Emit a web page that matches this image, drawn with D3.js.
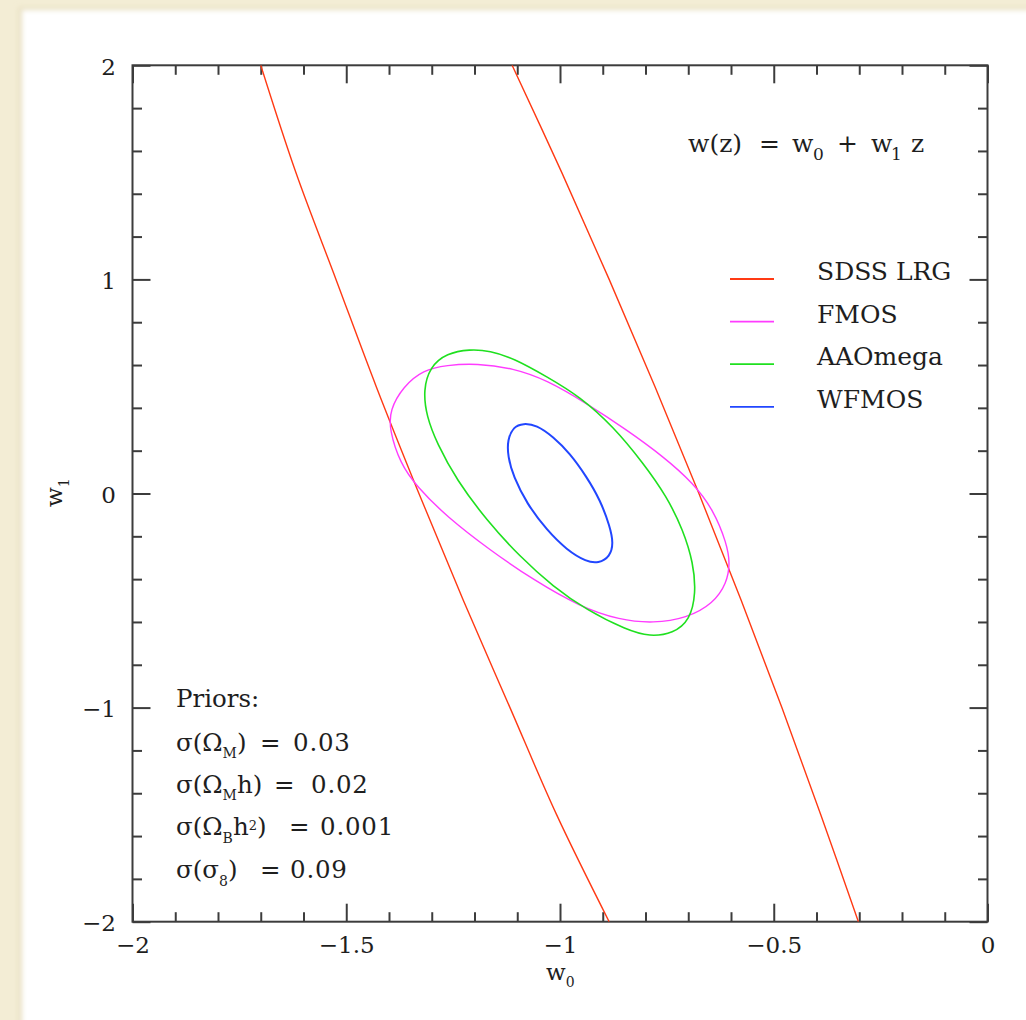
<!DOCTYPE html>
<html>
<head>
<meta charset="utf-8">
<script src="https://cdn.jsdelivr.net/npm/d3@7"></script>
<style>
  html, body { margin: 0; padding: 0; background: #f3edd5; }
  svg { display: block; }
  text { font-family: "DejaVu Serif", "Liberation Serif", serif; fill: #1e1e1e; }
</style>
</head>
<body>
<svg id="chart" width="1026" height="1020"></svg>
<script>
// Forecast 1-sigma contours in the (w0, w1) dark-energy plane.
const xDomain = [-2, 0];
const yDomain = [-2, 2];

const xMajorTicks = [-2, -1.5, -1, -0.5, 0];
const xTickLabels = ["\u22122", "\u22121.5", "\u22121", "\u22120.5", "0"];
const xMinorTicks = [-1.9, -1.8, -1.7, -1.6, -1.4, -1.3, -1.2, -1.1, -0.9, -0.8, -0.7, -0.6, -0.4, -0.3, -0.2, -0.1];
const yMajorTicks = [-2, -1, 0, 1, 2];
const yTickLabels = ["\u22122", "\u22121", "0", "1", "2"];
const yMinorTicks = [-1.8, -1.6, -1.4, -1.2, -0.8, -0.6, -0.4, -0.2, 0.2, 0.4, 0.6, 0.8, 1.2, 1.4, 1.6, 1.8];

const surveys = ["SDSS LRG", "FMOS", "AAOmega", "WFMOS"];
const surveyColors = ["#ff3a14", "#ff3cff", "#1fe01f", "#2146ff"];

// SDSS LRG: a long, thin ellipse whose two sides cross the whole panel
const sdssLeftEdge = [
  [-1.700, 2.0], [-1.618, 1.5], [-1.524, 1.0], [-1.430, 0.5], [-1.330, 0.0],
  [-1.226, -0.5], [-1.117, -1.0], [-1.008, -1.5], [-0.885, -2.0]
];
const sdssRightEdge = [
  [-1.112, 2.0], [-0.996, 1.5], [-0.885, 1.0], [-0.778, 0.5], [-0.675, 0.0],
  [-0.576, -0.5], [-0.481, -1.0], [-0.390, -1.5], [-0.302, -2.0]
];

// FMOS closed contour
const fmosContour = [
  [-1.195, 0.608], [-1.109, 0.585], [-1.031, 0.530], [-0.938, 0.421],
  [-0.844, 0.297], [-0.758, 0.172], [-0.688, 0.048], [-0.641, -0.077],
  [-0.610, -0.233], [-0.602, -0.326], [-0.610, -0.419], [-0.641, -0.513],
  [-0.704, -0.583], [-0.782, -0.606], [-0.860, -0.591], [-0.953, -0.529],
  [-1.062, -0.404], [-1.164, -0.264], [-1.265, -0.108], [-1.335, 0.032],
  [-1.374, 0.141], [-1.399, 0.297], [-1.398, 0.390], [-1.367, 0.499],
  [-1.320, 0.577], [-1.265, 0.600]
];

// AAOmega closed contour
const aaoContour = [
  [-1.211, 0.674], [-1.164, 0.667], [-1.109, 0.632], [-1.031, 0.546],
  [-0.953, 0.452], [-0.875, 0.312], [-0.805, 0.141], [-0.750, -0.015],
  [-0.712, -0.171], [-0.688, -0.326], [-0.682, -0.466], [-0.696, -0.591],
  [-0.735, -0.653], [-0.790, -0.669], [-0.844, -0.638], [-0.938, -0.544],
  [-1.016, -0.435], [-1.094, -0.295], [-1.172, -0.124], [-1.242, 0.063],
  [-1.288, 0.235], [-1.312, 0.359], [-1.320, 0.483], [-1.304, 0.592],
  [-1.265, 0.655]
];

// WFMOS closed contour
const wfmosContour = [
  [-1.086, 0.328], [-1.055, 0.320], [-1.016, 0.265], [-0.977, 0.188],
  [-0.938, 0.079], [-0.906, -0.030], [-0.883, -0.155], [-0.875, -0.233],
  [-0.883, -0.295], [-0.910, -0.326], [-0.938, -0.319], [-0.984, -0.264],
  [-1.031, -0.171], [-1.078, -0.046], [-1.109, 0.079], [-1.122, 0.172],
  [-1.123, 0.250], [-1.109, 0.312]
];

const svg = d3.select("#chart");
const W = 1026, H = 1020;

// page: cream backdrop with a soft-edged white sheet
const defs = svg.append("defs");
defs.append("filter").attr("id", "soft")
  .attr("x", "-5%").attr("y", "-5%").attr("width", "110%").attr("height", "110%")
  .append("feGaussianBlur").attr("stdDeviation", 2.5);
svg.append("rect").attr("width", W).attr("height", H).attr("fill", "#f3edd5");
svg.append("rect").attr("x", 18).attr("y", 7).attr("width", W).attr("height", H)
  .attr("fill", "#e9e1c4").attr("filter", "url(#soft)");
svg.append("rect").attr("x", 22).attr("y", 10).attr("width", W).attr("height", H)
  .attr("fill", "#ffffff").attr("filter", "url(#soft)");

const plotLeft = 132.5, plotRight = 987.5, plotTop = 65.3, plotBottom = 921.7;
const x = d3.scaleLinear().domain(xDomain).range([plotLeft, plotRight]);
const y = d3.scaleLinear().domain(yDomain).range([plotBottom, plotTop]);

defs.append("clipPath").attr("id", "plotClip")
  .append("rect").attr("x", plotLeft).attr("y", plotTop)
  .attr("width", plotRight - plotLeft).attr("height", plotBottom - plotTop);

const frameColor = "#3c3c3c";
const majorLen = 18, minorLen = 9.5;
const tickFont = 23;

// axes: ticks point inward on all four sides
function styleAxis(g) {
  g.select(".domain").remove();
  g.selectAll(".tick line").attr("stroke", frameColor).attr("stroke-width", 2);
}
function styleLabels(g) {
  g.selectAll("text").attr("font-size", tickFont).attr("fill", "#1e1e1e")
    .style("font-family", "'DejaVu Serif', serif");
}
const xLabelFor = d => xTickLabels[xMajorTicks.indexOf(d)];
const yLabelFor = d => yTickLabels[yMajorTicks.indexOf(d)];

svg.append("g").attr("transform", `translate(0,${plotBottom})`)
  .call(d3.axisBottom(x).tickValues(xMajorTicks).tickSizeInner(-majorLen).tickSizeOuter(0)
        .tickPadding(15).tickFormat(xLabelFor))
  .call(styleAxis).call(styleLabels);
svg.append("g").attr("transform", `translate(0,${plotBottom})`)
  .call(d3.axisBottom(x).tickValues(xMinorTicks).tickSizeInner(-minorLen).tickSizeOuter(0).tickFormat(""))
  .call(styleAxis);
svg.append("g").attr("transform", `translate(0,${plotTop})`)
  .call(d3.axisTop(x).tickValues(xMajorTicks).tickSizeInner(-majorLen).tickSizeOuter(0).tickFormat(""))
  .call(styleAxis);
svg.append("g").attr("transform", `translate(0,${plotTop})`)
  .call(d3.axisTop(x).tickValues(xMinorTicks).tickSizeInner(-minorLen).tickSizeOuter(0).tickFormat(""))
  .call(styleAxis);

svg.append("g").attr("transform", `translate(${plotLeft},0)`)
  .call(d3.axisLeft(y).tickValues(yMajorTicks).tickSizeInner(-majorLen).tickSizeOuter(0)
        .tickPadding(16.5).tickFormat(yLabelFor))
  .call(styleAxis).call(styleLabels)
  .call(g => g.selectAll("text").attr("dy", "0.4em"));
svg.append("g").attr("transform", `translate(${plotLeft},0)`)
  .call(d3.axisLeft(y).tickValues(yMinorTicks).tickSizeInner(-minorLen).tickSizeOuter(0).tickFormat(""))
  .call(styleAxis);
svg.append("g").attr("transform", `translate(${plotRight},0)`)
  .call(d3.axisRight(y).tickValues(yMajorTicks).tickSizeInner(-majorLen).tickSizeOuter(0).tickFormat(""))
  .call(styleAxis);
svg.append("g").attr("transform", `translate(${plotRight},0)`)
  .call(d3.axisRight(y).tickValues(yMinorTicks).tickSizeInner(-minorLen).tickSizeOuter(0).tickFormat(""))
  .call(styleAxis);

// frame
svg.append("rect").attr("x", plotLeft).attr("y", plotTop)
  .attr("width", plotRight - plotLeft).attr("height", plotBottom - plotTop)
  .attr("fill", "none").attr("stroke", frameColor).attr("stroke-width", 2);

// contours
const plot = svg.append("g").attr("clip-path", "url(#plotClip)");
const openLine = d3.line().x(d => x(d[0])).y(d => y(d[1])).curve(d3.curveCatmullRom.alpha(0.5));
const closedLine = d3.line().x(d => x(d[0])).y(d => y(d[1])).curve(d3.curveBasisClosed);

[sdssLeftEdge, sdssRightEdge].forEach(edge => {
  plot.append("path").attr("d", openLine(edge))
    .attr("fill", "none").attr("stroke", surveyColors[0]).attr("stroke-width", 1.4);
});
[[fmosContour, 1, 1.4], [aaoContour, 2, 1.6], [wfmosContour, 3, 2]].forEach(([pts, i, sw]) => {
  plot.append("path").attr("d", closedLine(pts))
    .attr("fill", "none").attr("stroke", surveyColors[i]).attr("stroke-width", sw);
});

// legend
const legend = svg.append("g");
surveys.forEach((name, i) => {
  const ly = 279 + i * 42.6;
  legend.append("line").attr("x1", 730).attr("x2", 774).attr("y1", ly).attr("y2", ly)
    .attr("stroke", surveyColors[i]).attr("stroke-width", 1.8);
  legend.append("text").attr("x", 817).attr("y", ly + 1).attr("font-size", 25)
    .attr("fill", surveyColors[i]).text(name);
});

// equation label: w(z) = w0 + w1 z
const eq = svg.append("g");
function piece(parent, px, py, str, size) {
  return parent.append("text").attr("x", px).attr("y", py)
    .attr("font-size", size || 25).text(str);
}
piece(eq, 688, 152, "w(z)");
piece(eq, 759, 152, "=");
piece(eq, 792, 152, "w");
piece(eq, 813, 160, "0", 17);
piece(eq, 837, 152, "+");
piece(eq, 871, 152, "w");
piece(eq, 891, 160, "1", 17);
piece(eq, 911, 152, "z");

// priors block: text before "=", with sub/superscripts, then "=" and the value at set x
const priors = svg.append("g").attr("font-size", 24.5);
function richLine(py, parts, eqX, value, valueX) {
  const t = priors.append("text").attr("x", 176).attr("y", py);
  let shift = 0;
  parts.forEach(p => {
    const s = t.append("tspan");
    let target = 0, size = null;
    if (p.sub) { target = 7.5; size = 14; s.text(p.sub); }
    else if (p.sup) { target = -5; size = 13; s.text(p.sup); }
    else { s.text(p.t); }
    if (size) s.attr("font-size", size);
    if (target !== shift) { s.attr("dy", target - shift); shift = target; }
  });
  if (eqX !== undefined) {
    const e = t.append("tspan").attr("x", eqX).text("=");
    if (shift !== 0) e.attr("dy", -shift);
    t.append("tspan").attr("x", valueX).attr("letter-spacing", 0.8).text(value);
  }
}
richLine(706.5, [{ t: "Priors:" }]);
richLine(750.5, [{ t: "\u03c3(\u03a9" }, { sub: "M" }, { t: ")" }], 260, "0.03", 293);
richLine(792.5, [{ t: "\u03c3(\u03a9" }, { sub: "M" }, { t: "h)" }], 274, "0.02", 311);
richLine(835, [{ t: "\u03c3(\u03a9" }, { sub: "B" }, { t: "h" }, { sup: "2" }, { t: ")" }], 289, "0.001", 320);
richLine(878, [{ t: "\u03c3(\u03c3" }, { sub: "8" }, { t: ")" }], 260, "0.09", 290);

// axis titles
const xt = svg.append("text").attr("x", 546).attr("y", 980).attr("font-size", 23);
xt.append("tspan").text("w");
xt.append("tspan").attr("font-size", 14).attr("dy", 7).text("0");

const yt = svg.append("text").attr("transform", "translate(62,507) rotate(-90)").attr("font-size", 23);
yt.append("tspan").text("w");
yt.append("tspan").attr("font-size", 14).attr("dy", 7).text("1");
</script>
</body>
</html>
